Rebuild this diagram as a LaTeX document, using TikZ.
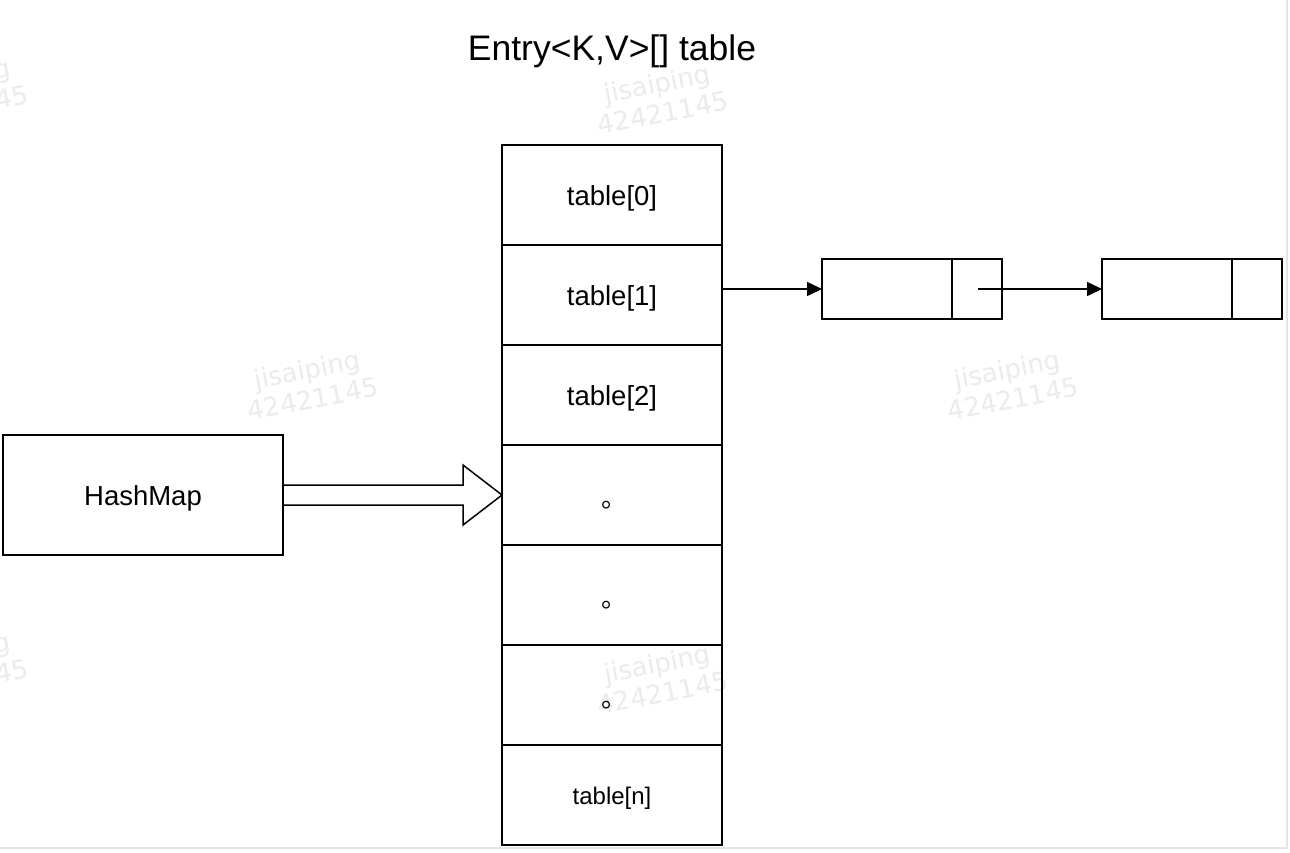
\documentclass[tikz,border=0pt]{standalone}
\usepackage{fontspec}
\setmainfont{Liberation Sans}
\newfontfamily\cjk{Noto Sans CJK SC}
\newfontfamily\wmfont{DejaVu Sans}
\usetikzlibrary{arrows.meta,calc}
\newcommand{\lowered}[1]{\raisebox{-3.5pt}[\height][\depth]{#1}}
\begin{document}
\begin{tikzpicture}[x=1pt,y=-1pt,
  line width=1.5pt,
  cell/.style={draw, minimum width=220pt, minimum height=100pt, outer sep=0pt, inner sep=0pt,
    font=\fontsize{27.5}{33}\selectfont},
  entry/.style={draw, minimum width=180pt, minimum height=60pt, outer sep=0pt, inner sep=0pt},
  link/.style={-{Triangle[length=15pt,width=14pt]}},
  wm/.style={text=black!8, font=\wmfont\fontsize{26}{30}\selectfont, rotate=11, align=center},
  dotlbl/.style={font=\cjk\fontsize{26}{30}\selectfont}
]
\useasboundingbox (0,0) rectangle (1290,852);
\clip (0,0) rectangle (1290,852);
\fill[white] (0,0) rectangle (1290,852);
% frame of the screenshot
\draw[black!10, line width=1.5pt] (1287,0) -- (1287,848) -- (0,848);
% watermarks
\node[wm] (w1) at (660,98) {jisaiping\\42421145};
\node[wm] (w2) at (310,384) {jisaiping\\42421145};
\node[wm] (w3) at (1010,384) {jisaiping\\42421145};
\node[wm] (w4) at (660,678) {jisaiping\\42421145};
\node[wm] (w5) at (-40,92) {jisaiping\\42421145};
\node[wm] (w6) at (-40,666) {jisaiping\\42421145};
% title
\node[font=\fontsize{35.5}{42}\selectfont] (title) at (612,51) {Entry<K,V>[] table};
% table cells
\node[cell] (c0) at (612,195) {\lowered{table[0]}};
\node[cell] (c1) at (612,295) {\lowered{table[1]}};
\node[cell] (c2) at (612,395) {\lowered{table[2]}};
\node[cell] (c3) at (612,495) {};
\node[cell] (c4) at (612,595) {};
\node[cell] (c5) at (612,695) {};
\node[cell, font=\fontsize{24}{29}\selectfont] (c6) at (612,795) {\lowered{table[n]}};
\node[dotlbl] (d3) at (614,505) {。};
\node[dotlbl] (d4) at (614,605) {。};
\node[dotlbl] (d5) at (614,705) {。};
% HashMap
\node[draw, minimum width=280pt, minimum height=120pt, outer sep=0pt,
  font=\fontsize{27.5}{33}\selectfont] (hm) at (143,495) {\lowered{HashMap}};
% hollow arrow
\draw[line join=miter] ($(hm.east)+(0,-10)$) -- ($(c3.west)+(-39,-10)$) -- ($(c3.west)+(-39,-30)$)
  -- (c3.west) -- ($(c3.west)+(-39,30)$) -- ($(c3.west)+(-39,10)$) -- ($(hm.east)+(0,10)$);
% linked entries
\node[entry] (n1) at (912,289) {};
\node[entry] (n2) at (1192,289) {};
\draw ($(n1.north west)+(130,0)$) -- ($(n1.south west)+(130,0)$);
\draw ($(n2.north west)+(130,0)$) -- ($(n2.south west)+(130,0)$);
\coordinate (p1) at ($(n1.west)+(156,0)$);
\draw[link] (c1.east |- n1.west) -- (n1.west);
\draw[link] (p1) -- (n2.west);
\end{tikzpicture}
\end{document}
